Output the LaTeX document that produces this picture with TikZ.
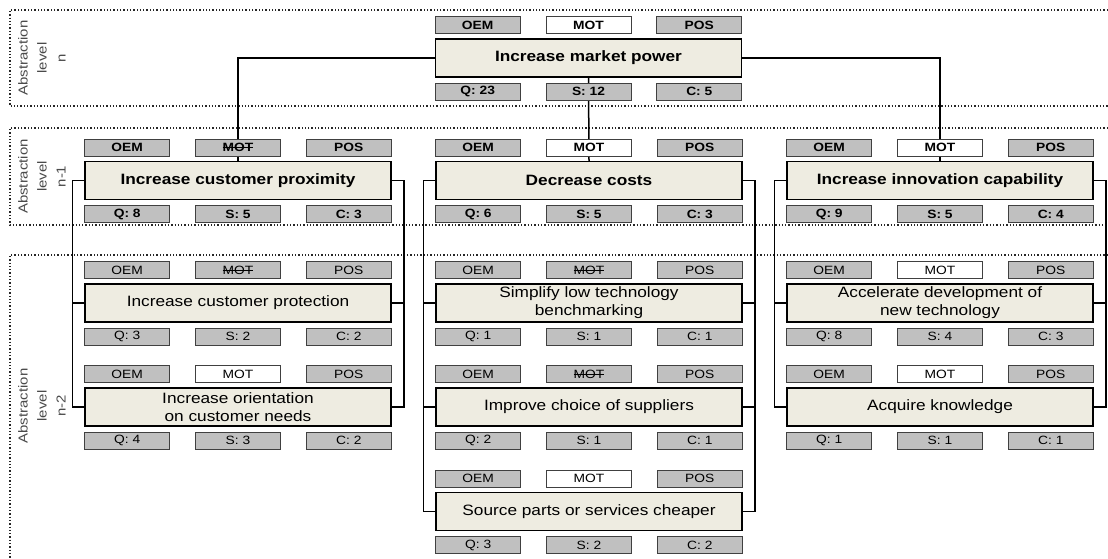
\documentclass[tikz,border=0pt]{standalone}
\usepackage{fontspec}
\setmainfont{Liberation Sans}
\newfontfamily\wide{Liberation Sans}[FakeStretch=1.15]
\usepackage{tikz}
\usetikzlibrary{positioning,backgrounds}
\definecolor{Beige}{HTML}{EEECE1}
\definecolor{Tag}{HTML}{C0C0C0}
\definecolor{Edge}{HTML}{404040}
\definecolor{Label}{HTML}{4A4A4A}
\tikzset{
 goalbox/.style={draw=black,line width=1.5pt,fill=Beige,minimum width=306pt,
   minimum height=38pt,inner sep=1pt,align=center,font=\wide\fontsize{15}{18}\selectfont},
 tagbox/.style={draw=Edge,line width=0.9pt,fill=Tag,minimum width=85pt,
   minimum height=17pt,inner sep=0pt,font=\wide\fontsize{12}{12}\selectfont},
 motbox/.style={tagbox,fill=white},
 link/.style={line width=1.5pt,draw=black},
 levelframe/.style={dotted,line width=1.3pt,draw=black!85},
 levellabel/.style={rotate=90,align=center,text=Label,font=\wide\fontsize{13}{19}\selectfont}
}
\newsavebox{\strikebox}
\newcommand{\struck}[1]{\sbox{\strikebox}{#1}\rlap{\rule[0.32em]{\wd\strikebox}{0.8pt}}\usebox{\strikebox}}
% goal box with its tag row above and its count row below
% #1 name, #2 centre, #3 weight, #4 text, #5 MOT style, #6 MOT text, #7 Q, #8 S, #9 C
\newcommand{\goal}[9]{%
 \node[goalbox] (#1) at (#2) {#3#4};
 \node[tagbox,above right=4pt and 0pt of #1.north west] (#1oem) {#3OEM};
 \node[#5,above=4pt of #1.north] (#1mot) {#3#6};
 \node[tagbox,above left=4pt and 0pt of #1.north east] (#1pos) {#3POS};
 \node[tagbox,below right=5pt and 0pt of #1.south west] (#1q) {#3Q: #7};
 \node[tagbox,below=5pt of #1.south] (#1s) {#3S: #8};
 \node[tagbox,below left=5pt and 0pt of #1.south east] (#1c) {#3C: #9};
}

\begin{document}
\begin{tikzpicture}[x=1pt,y=1pt]
\useasboundingbox (0,0) rectangle (1108,-558);
% level n
\goal{top}{588.5,-58}{\bfseries}{Increase market power}{motbox}{MOT}{23}{12}{5}
% level n-1
\goal{prox}{238,-180.5}{\bfseries}{Increase customer proximity}{tagbox}{\struck{MOT}}{8}{5}{3}
\goal{cost}{589,-180.5}{\bfseries}{Decrease costs}{motbox}{MOT}{6}{5}{3}
\goal{inno}{940,-180.5}{\bfseries}{Increase innovation capability}{motbox}{MOT}{9}{5}{4}
% level n-2
\goal{protect}{238,-303}{\mdseries}{Increase customer protection}{tagbox}{\struck{MOT}}{3}{2}{2}
\goal{needs}{238,-407}{\mdseries}{Increase orientation\\on customer needs}{motbox}{MOT}{4}{3}{2}
\goal{bench}{589,-303}{\mdseries}{Simplify low technology\\benchmarking}{tagbox}{\struck{MOT}}{1}{1}{1}
\goal{suppl}{589,-407}{\mdseries}{Improve choice of suppliers}{tagbox}{\struck{MOT}}{2}{1}{1}
\goal{cheap}{589,-511.5}{\mdseries}{Source parts or services cheaper}{motbox}{MOT}{3}{2}{2}
\goal{accel}{940,-303}{\mdseries}{Accelerate development of\\new technology}{motbox}{MOT}{8}{4}{3}
\goal{know}{940,-407}{\mdseries}{Acquire knowledge}{motbox}{MOT}{1}{1}{1}

\node[levellabel] (lvn) at (42,-58) {Abstraction\\level\\n};
\node[levellabel] (lvn1) at (42,-176.5) {Abstraction\\level\\n-1};
\node[levellabel] (lvn2) at (42,-406) {Abstraction\\level\\n-2};

\begin{scope}[on background layer]
\draw[levelframe] (1108,-10) -- (10,-10) -- (10,-106) -- (1108,-106);
\draw[levelframe] (1108,-128) -- (10,-128) -- (10,-225) -- (1108,-225);
\draw[levelframe] (1108,-255) -- (10,-255) -- (10,-558);
\draw[link] (top.west) -| (prox.north);
\draw[link] (top.east) -| (inno.north);
\draw[link] (top.south) -- (cost.north);
\foreach \up/\low in {prox/needs,cost/cheap,inno/know}{
 \draw[link] (\up.west) -| ([xshift=-12pt]\low.west) -- (\low.west);
 \draw[link] (\up.east) -| ([xshift=12pt]\low.east) -- (\low.east);
}
\foreach \mid in {protect,bench,suppl,accel}{
 \draw[link] (\mid.west) -- ([xshift=-12pt]\mid.west);
 \draw[link] (\mid.east) -- ([xshift=12pt]\mid.east);
}
\end{scope}
\end{tikzpicture}
\end{document}
